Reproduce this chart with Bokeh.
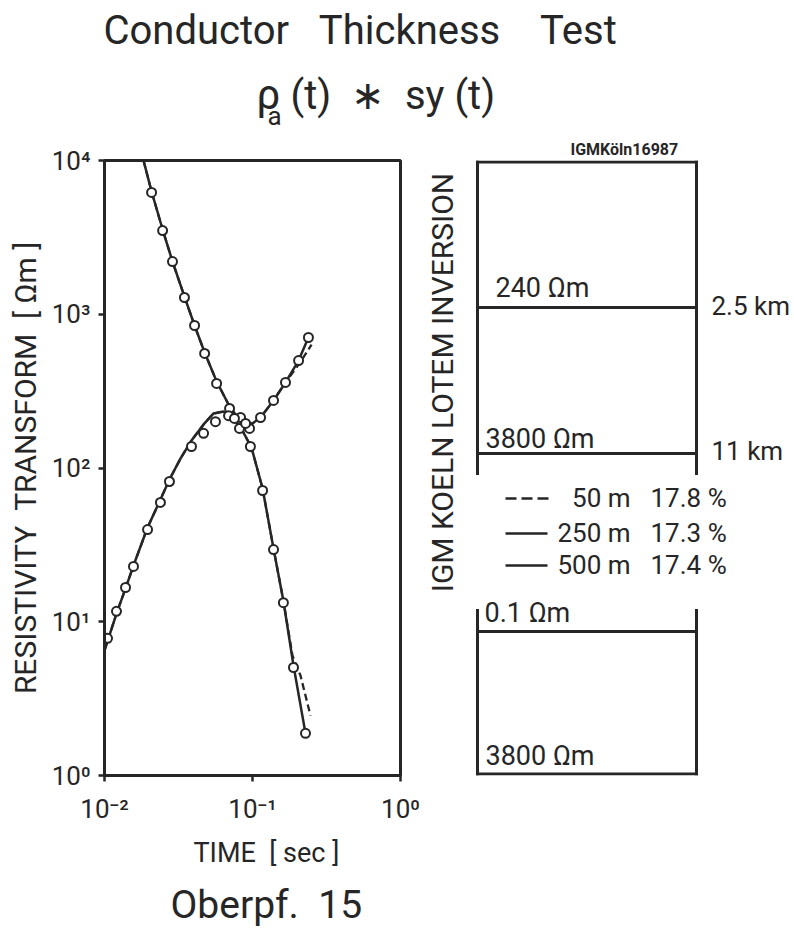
import math
from bokeh.plotting import figure
from bokeh.models import Range1d, FixedTicker, Title
from bokeh.layouts import column, row
from bokeh.core.properties import value
from bokeh.embed import file_html
from bokeh.resources import INLINE

INK = "#262626"
FONT = "Roboto"
NB = "\u00a0"

# ---------------- data ----------------
# observed resistivity transforms (open circles)
obs1_time = [0.0208, 0.0247, 0.0288, 0.0347, 0.0406, 0.0475, 0.0572, 0.0700,
             0.0830, 0.0955, 0.1133, 0.1387, 0.1671, 0.2048, 0.2387]
obs1_rho = [6200, 3500, 2200, 1285, 845, 556, 355, 244,
            213, 181, 213, 275, 360, 500, 706]

obs2_time = [0.01048, 0.01205, 0.01387, 0.0157, 0.01954, 0.02388, 0.02748, 0.0387,
             0.0467, 0.0562, 0.0689, 0.0755, 0.0817, 0.0898, 0.0968, 0.117,
             0.1387, 0.1617, 0.1892, 0.2281]
obs2_rho = [7.8, 11.7, 16.7, 22.9, 39.8, 59.7, 81.7, 138,
            168, 200, 219, 210, 181, 195, 138, 71.4,
            29.5, 13.3, 5.04, 1.88]

# model responses: 250 m / 500 m (solid) and 50 m (dashed)
model1_time = [0.01835, 0.0208, 0.0247, 0.0288, 0.0347, 0.0406, 0.0475, 0.0572,
               0.0700, 0.0793, 0.0898, 0.100, 0.1133, 0.1387, 0.1671, 0.2048, 0.2387]
model1_rho = [10000, 6286, 3557, 2204, 1303, 845, 564, 366,
              251, 213, 195, 195, 213, 275, 360, 500, 706]
model1_50m_time = [0.01835, 0.0208, 0.0247, 0.0288, 0.0347, 0.0406, 0.0475, 0.0572,
                   0.0700, 0.0793, 0.0898, 0.100, 0.1133, 0.1387, 0.1671, 0.208, 0.2507]
model1_50m_rho = [10000, 6286, 3557, 2204, 1303, 845, 564, 366,
                  251, 213, 195, 195, 213, 275, 360, 479, 635]

model2_time = [0.0100, 0.01205, 0.01387, 0.0157, 0.01954, 0.02388, 0.02748, 0.0326,
               0.0387, 0.0467, 0.0544, 0.0637, 0.0745, 0.0855, 0.0984, 0.117,
               0.1387, 0.1617, 0.1892, 0.2281]
model2_rho = [6.5, 11.3, 16.5, 23.2, 41.0, 62.4, 84.2, 115,
              151, 192, 226, 233, 210, 175, 136, 73.6,
              29.9, 13.7, 5.19, 1.88]
model2_50m_time = [0.0100, 0.01205, 0.01387, 0.0157, 0.01954, 0.02388, 0.02748, 0.0326,
                   0.0387, 0.0467, 0.0544, 0.0637, 0.0745, 0.0855, 0.0984, 0.117,
                   0.1387, 0.1617, 0.1862, 0.211, 0.2466]
model2_50m_rho = [6.5, 11.3, 16.5, 23.2, 41.0, 62.4, 84.2, 115,
                  151, 192, 226, 233, 210, 175, 136, 73.6,
                  29.9, 13.7, 6.03, 4.47, 2.45]

x_ticks = [0.01, 0.1, 1.0]
x_tick_labels = ["10\u207b\u00b2", "10\u207b\u00b9", "10\u2070"]
y_ticks = [1.0, 10.0, 100.0, 1000.0, 10000.0]
y_tick_labels = ["10\u2070", "10\u00b9", "10\u00b2", "10\u00b3", "10\u2074"]

title_text = "Conductor" + " " + NB + NB + "Thickness" + " " + NB + NB + NB + "Test"
subtitle_rho = "\u03c1"
subtitle_sub = "a"
subtitle_rest = "(t) " + NB + "\u2217" + NB + " sy (t)"
x_label = "TIME " + NB + "[ sec ]"
y_label = "RESISTIVITY " + NB + "TRANSFORM " + NB + "[ \u03a9m ]"
station = "Oberpf." + NB + " 15"
stamp = "IGMK\u00f6ln16987"
side_title = "IGM KOELN LOTEM INVERSION"

layer_rho_labels = ["240 \u03a9m", "3800 \u03a9m", "0.1 \u03a9m", "3800 \u03a9m"]
boundary_depth_labels = ["2.5 km", "11 km"]
thickness_labels = ["50 m", "250 m", "500 m"]
misfit_labels = ["17.8 %", "17.3 %", "17.4 %"]
thickness_dash = ["11 5", "solid", "solid"]

# page bands (px): titles / chart row / bottom texts
TOP_H = 134
ROW_H = 698
BOT_H = 929 - TOP_H - ROW_H
LEFT_W = 420


def blank(width, height, x0, x1, ytop, ybottom):
    p = figure(width=width, height=height, title=None,
               x_range=Range1d(x0, x1), y_range=Range1d(ybottom, ytop),
               x_axis_type=None, y_axis_type=None,
               toolbar_location=None, output_backend="svg", min_border=0)
    p.outline_line_color = None
    p.background_fill_color = "white"
    p.border_fill_color = "white"
    return p


def txt(p, x, base, s, size, align="left", angle=0.0, bold=False, mid=None):
    # position given by the text baseline (or its centre); drawn centred vertically
    y = mid if mid is not None else base - 0.35 * size
    p.text(x=[x], y=[y], text=[s], text_font=value(FONT), text_font_size=f"{size}px",
           text_align=align, text_baseline="middle", angle=angle, text_color=INK,
           text_font_style="bold" if bold else "normal")


# ---------------- top: titles ----------------
top = blank(794, TOP_H, 0, 794, 0, TOP_H)
txt(top, 103, 44, title_text, 40)
txt(top, 256, 109, subtitle_rho, 42)
txt(top, 267, 125, subtitle_sub, 26)
txt(top, 290, 109, subtitle_rest, 40)

# ---------------- left: log-log chart ----------------
p = figure(width=LEFT_W, height=ROW_H, title=None, x_axis_type="log", y_axis_type="log",
           x_range=Range1d(0.01, 1.0), y_range=Range1d(1.0, 10000.0),
           toolbar_location=None, output_backend="svg",
           min_border_left=104, min_border_right=LEFT_W - 104 - 296,
           min_border_top=160 - TOP_H, min_border_bottom=ROW_H - (160 - TOP_H) - 615)
p.background_fill_color = "white"
p.border_fill_color = "white"
p.xgrid.visible = False
p.ygrid.visible = False
p.outline_line_color = INK
p.outline_line_width = 3

p.xaxis.ticker = FixedTicker(ticks=x_ticks)
p.yaxis.ticker = FixedTicker(ticks=y_ticks)
xo = {}
for t, l in zip(x_ticks, x_tick_labels):
    xo[t] = l
    xo[str(t)] = l
yo = {}
for t, l in zip(y_ticks, y_tick_labels):
    yo[t] = l
    yo[str(t)] = l
p.xaxis.major_label_overrides = xo
p.yaxis.major_label_overrides = yo

for ax in (p.xaxis[0], p.yaxis[0]):
    ax.axis_line_color = INK
    ax.axis_line_width = 3
    ax.major_tick_out = 6
    ax.major_tick_in = 0
    ax.minor_tick_out = 0
    ax.minor_tick_in = 0
    ax.major_tick_line_color = INK
    ax.major_tick_line_width = 2.5
    ax.major_label_text_font = FONT
    ax.major_label_text_font_size = "26px"
    ax.major_label_text_color = INK
p.xaxis.major_label_standoff = 12
p.yaxis.major_label_standoff = 8
p.yaxis.axis_label = y_label
p.yaxis.axis_label_text_font = FONT
p.yaxis.axis_label_text_font_size = "30px"
p.yaxis.axis_label_text_font_style = "normal"
p.yaxis.axis_label_text_color = INK
p.yaxis.axis_label_standoff = 6

p.line(model1_50m_time, model1_50m_rho, line_width=2.3, line_color=INK, line_dash="7 4")
p.line(model2_50m_time, model2_50m_rho, line_width=2.3, line_color=INK, line_dash="7 4")
p.line(model1_time, model1_rho, line_width=2.5, line_color=INK)
p.line(model2_time, model2_rho, line_width=2.5, line_color=INK)
p.scatter(obs1_time, obs1_rho, marker="circle", size=9, fill_color="white",
          line_color=INK, line_width=2)
p.scatter(obs2_time, obs2_rho, marker="circle", size=9, fill_color="white",
          line_color=INK, line_width=2)

# ---------------- right: layered-earth model sketch ----------------
# (its plotting frame is aligned with the chart frame: page y 160..775)
r = blank(794 - LEFT_W, ROW_H, LEFT_W, 794, 160, 775)
r.add_layout(Title(text=stamp, align="left", offset=150, standoff=3,
                   text_font=FONT, text_font_size="16px", text_font_style="bold",
                   text_color=INK), "above")
box_l, box_r = 477, 696
upper_top, upper_open = 161.5, 473
boundary_y = [307, 453]
lower_open, cond_y, lower_bottom = 610, 631, 773.5

sx0 = [box_l, box_l, box_r, box_l, box_l, box_l, box_r, box_l, box_l]
sy0 = [upper_top, upper_top, upper_top, boundary_y[0], boundary_y[1], lower_open, lower_open, cond_y, lower_bottom]
sx1 = [box_r, box_l, box_r, box_r, box_r, box_l, box_r, box_r, box_r]
sy1 = [upper_top, upper_open, upper_open, boundary_y[0], boundary_y[1], lower_bottom, lower_bottom, cond_y, lower_bottom]
r.segment(x0=sx0, y0=sy0, x1=sx1, y1=sy1, line_color=INK, line_width=3, line_cap="square")

txt(r, 442, None, side_title, 30, align="center", angle=math.pi / 2, mid=382)

txt(r, 495, 297, layer_rho_labels[0], 27)
txt(r, 485, 448, layer_rho_labels[1], 27)
txt(r, 484, 622, layer_rho_labels[2], 27)
txt(r, 485, 765, layer_rho_labels[3], 27)
txt(r, 711, 315, boundary_depth_labels[0], 26)
txt(r, 711, 460, boundary_depth_labels[1], 26)

leg_y = [498, 533, 565]
for i in range(3):
    if thickness_dash[i] == "solid":
        r.segment(x0=[505], y0=[leg_y[i]], x1=[547], y1=[leg_y[i]], line_color=INK, line_width=2.3)
    else:
        r.segment(x0=[505], y0=[leg_y[i]], x1=[548], y1=[leg_y[i]], line_color=INK, line_width=2.3,
                  line_dash=thickness_dash[i])
    txt(r, 630, leg_y[i] + 9, thickness_labels[i], 26, align="right")
    txt(r, 650, leg_y[i] + 9, misfit_labels[i], 26)

# ---------------- bottom: axis title and station ----------------
bot = blank(794, BOT_H, 0, 794, TOP_H + ROW_H, 929)
txt(bot, 193, 862, x_label, 27)
txt(bot, 170, None, station, 39, mid=904)

layout = column(top, row(p, r), bot)
open("out.html", "w").write(file_html(layout, INLINE))
